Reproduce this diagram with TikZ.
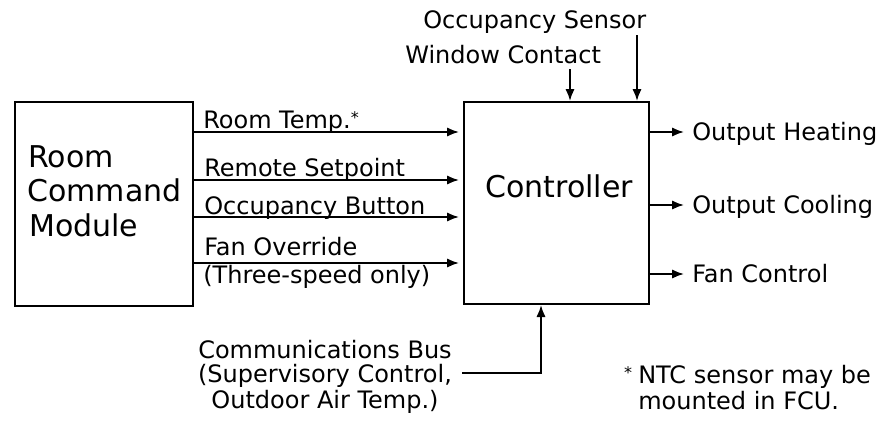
\documentclass[tikz,border=0pt]{standalone}
\usepackage{fontspec}
\setmainfont{DejaVu Sans}
\usetikzlibrary{arrows.meta}
\begin{document}
\begin{tikzpicture}[x=0.75pt,y=-0.75pt,
  box/.style={draw,line width=1.5pt,inner sep=0pt},
  arr/.style={line width=1.4pt,-{Latex[length=9pt,width=7pt]}},
  lbl/.style={inner sep=0pt,font=\fontsize{18}{22}\selectfont},
  big/.style={inner sep=0pt,font=\fontsize{22.5}{27}\selectfont}]
\useasboundingbox (0,0) rectangle (885,421);
% boxes
\node[box,minimum width=133.5pt,minimum height=153pt] (rcm) at (104,204) {};
\node[box,minimum width=138.75pt,minimum height=151.5pt] (ctrl) at (556.5,203) {};
% box texts
\node[big,anchor=base west] (r1) at (28,167) {Room};
\node[big,anchor=base west] (r2) at (27,201) {Command};
\node[big,anchor=base west] (r3) at (29,236) {Module};
\node[big,anchor=base] (ct) at (559,197) {Controller};
% inputs from room command module
\node[lbl,anchor=base west] (l1) at (203,128) {Room Temp.\raisebox{0.35ex}{\fontsize{12}{12}\selectfont*}};
\node[lbl,anchor=base west] (l2) at (204,176) {Remote Setpoint};
\node[lbl,anchor=base west] (l3) at (204,214) {Occupancy Button};
\node[lbl,anchor=base west] (l4) at (204,255) {Fan Override};
\node[lbl,anchor=base west] (l5) at (203,283) {(Three-speed only)};
\draw[arr,shorten >=3pt] (rcm.east |- 0,132) -- (ctrl.west |- 0,132);
\draw[arr,shorten >=3pt] (rcm.east |- 0,180) -- (ctrl.west |- 0,180);
\draw[arr,shorten >=3pt] (rcm.east |- 0,217) -- (ctrl.west |- 0,217);
\draw[arr,shorten >=3pt] (rcm.east |- 0,263) -- (ctrl.west |- 0,263);
% top inputs
\node[lbl,anchor=base west] (os) at (423,28) {Occupancy Sensor};
\node[lbl,anchor=base west] (wc) at (405,63) {Window Contact};
\coordinate (wcs) at (570,69);
\coordinate (oss) at (637,35);
\draw[arr] (wcs) -- (wcs |- ctrl.north);
\draw[arr] (oss) -- (oss |- ctrl.north);
% outputs
\node[lbl,anchor=base west] (oh) at (692,140) {Output Heating};
\node[lbl,anchor=base west] (oc) at (692,213) {Output Cooling};
\node[lbl,anchor=base west] (fc) at (692,282) {Fan Control};
\draw[arr,shorten >=6pt] (ctrl.east |- 0,132) -- (oh.west |- 0,132);
\draw[arr,shorten >=6pt] (ctrl.east |- 0,205) -- (oc.west |- 0,205);
\draw[arr,shorten >=6pt] (ctrl.east |- 0,274) -- (fc.west |- 0,274);
% communications bus
\node[lbl,anchor=base] (cb1) at (325,358) {Communications Bus};
\node[lbl,anchor=base] (cb2) at (325,382) {(Supervisory Control,};
\node[lbl,anchor=base] (cb3) at (325,408) {Outdoor Air Temp.)};
\coordinate (cbs) at (462,373);
\draw[arr] (cbs) -| (ctrl.south -| 541,0);
% footnote
\node[inner sep=0pt,font=\fontsize{12}{12}\selectfont] (st) at (628,373) {*};
\node[lbl,anchor=base west] (n1) at (638,383) {NTC sensor may be};
\node[lbl,anchor=base west] (n2) at (638,409) {mounted in FCU.};
\end{tikzpicture}
\end{document}
